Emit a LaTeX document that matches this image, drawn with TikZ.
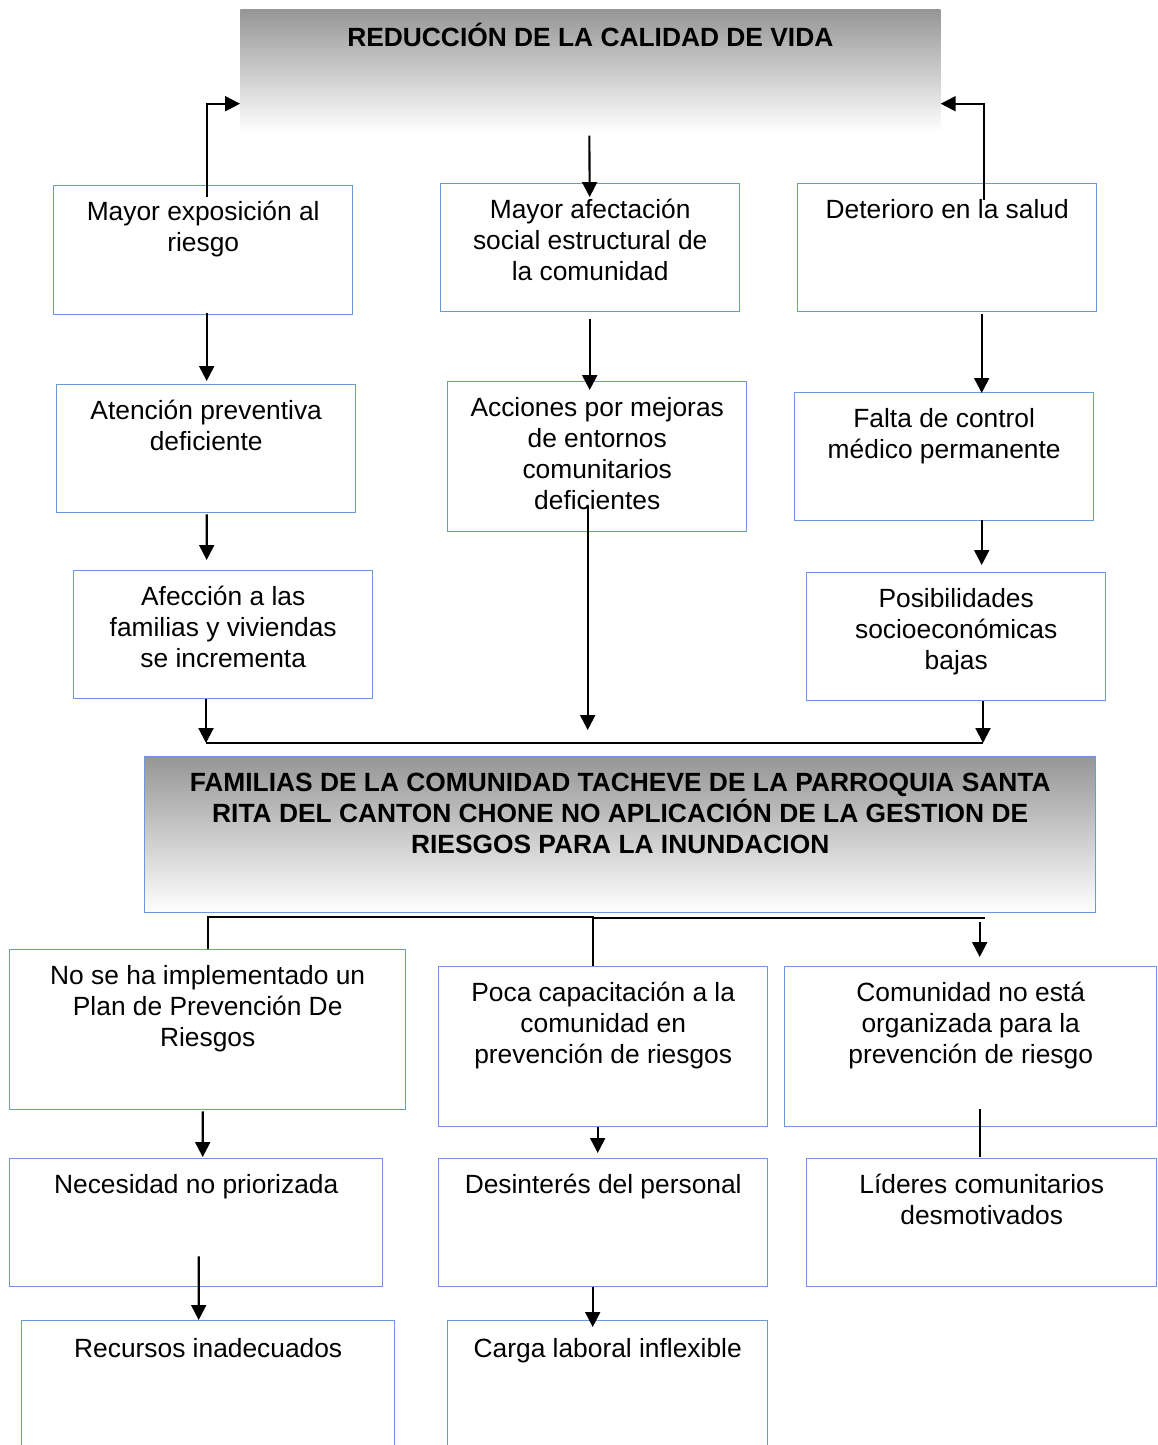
\documentclass[tikz,border=0pt]{standalone}
\usepackage{fontspec}
\setmainfont{Liberation Sans}
\usepackage{xcolor}
\usepackage{tikz}
\usetikzlibrary{arrows.meta,positioning,calc}
\definecolor{colorBorde}{HTML}{6A98D8}
\definecolor{colorGris}{HTML}{969696}
\newlength{\pxu}
\setlength{\pxu}{0.02cm}
% box contents: [strut] width height text (in pixels)
\newcommand{\caja}[4][34]{\parbox[c][#3\pxu][t]{#2\pxu}{\centering\rule{0pt}{#1\pxu}#4}}

\begin{document}
\begin{tikzpicture}[
    x=0.02cm, y=-0.02cm,
    cuadro/.style={draw=colorBorde, line width=0.8pt, inner sep=0pt, anchor=north west, font=\fontsize{15pt}{17.6pt}\selectfont},
    titulo/.style={inner sep=0pt, anchor=north west, top color=colorGris, bottom color=white, font=\fontsize{15pt}{17.6pt}\selectfont\bfseries},
    flecha/.style={-{Triangle[width=8.5pt,length=8.5pt]}, line width=1.2pt},
    linea/.style={line width=1.2pt}
]
    \useasboundingbox (0,0) rectangle (1158,1445);
    \clip (0,0) rectangle (1158,1445);

    % Nodes
    \node[titulo] (reduc) at (240,9) {\caja[37]{700}{123}{REDUCCIÓN DE LA CALIDAD DE VIDA}};

    \node[cuadro] (expo) at (53,185) {\caja[35]{299}{129}{Mayor exposición al\\riesgo}};
    \node[cuadro] (afect) at (440,183) {\caja[35]{299}{128}{Mayor afectación\\social estructural de\\la comunidad}};
    \node[cuadro] (deter) at (797,183) {\caja[35]{299}{128}{Deterioro en la salud}};

    \node[cuadro] (aten) at (56,384) {\caja[35]{299}{128}{Atención preventiva\\deficiente}};
    \node[cuadro] (acc) at (447,381) {\caja[35]{299}{150}{Acciones por mejoras\\de entornos\\comunitarios\\deficientes}};
    \node[cuadro] (falta) at (794,392) {\caja[35]{299}{128}{Falta de control\\médico permanente}};

    \node[cuadro] (afec) at (73,570) {\caja[35]{299}{128}{Afección a las\\familias y viviendas\\se incrementa}};
    \node[cuadro] (posib) at (806,572) {\caja[35]{299}{128}{Posibilidades\\socioeconómicas\\bajas}};

    \node[titulo, draw=colorBorde, line width=0.8pt] (famil) at (144,756) {\caja[35]{951}{156}{FAMILIAS DE LA COMUNIDAD TACHEVE DE LA PARROQUIA SANTA\\RITA DEL CANTON CHONE NO APLICACIÓN DE LA GESTION DE\\RIESGOS PARA LA INUNDACION}};

    \node[cuadro] (noimpl) at (9,949) {\caja[35]{396}{160}{No se ha implementado un\\Plan de Prevención De\\Riesgos}};
    \node[cuadro] (capac) at (438,966) {\caja[35]{329}{160}{Poca capacitación a la\\comunidad en\\prevención de riesgos}};
    \node[cuadro] (organ) at (784,966) {\caja[35]{372}{160}{Comunidad no está\\organizada para la\\prevención de riesgo}};

    \node[cuadro] (neces) at (9,1158) {\caja[35]{373}{128}{Necesidad no priorizada}};
    \node[cuadro] (desint) at (438,1158) {\caja[35]{329}{128}{Desinterés del personal}};
    \node[cuadro] (lideres) at (806,1158) {\caja[35]{350}{128}{Líderes comunitarios\\desmotivados}};

    \node[cuadro] (recur) at (21,1320) {\caja[37]{373}{150}{Recursos inadecuados}};
    \node[cuadro] (carga) at (447,1320) {\caja[37]{320}{150}{Carga laboral inflexible}};

    % Junctions
    \coordinate (unionA) at ($(famil.north west)+(62,-13)$);
    \coordinate (unionB) at ($(famil.north west)+(839,-13)$);
    \coordinate (rama) at ($(famil.south west)+(449,4)$);
    \coordinate (ramaC) at ($(organ.north)+(14,-48)$);

    % Edges (effects)
    \draw[flecha] ($(expo.north)+(3.5,12)$) |- ($(reduc.south west)+(0,-29)$);
    \draw[flecha] ($(reduc.south)+(-1,3)$) -- ($(afect.north)+(-0.5,14)$);
    \draw[flecha] ($(deter.north)+(36.5,17)$) |- ($(reduc.south east)+(0,-29)$);
    \draw[flecha] ($(expo.south)+(3.5,-2)$) -- ($(aten.north)+(0.5,-3)$);
    \draw[flecha] ($(afect.south)+(-0.5,7)$) -- ($(acc.north)+(-7.5,9)$);
    \draw[flecha] ($(deter.south)+(34.5,2)$) -- ($(falta.north)+(37.5,1)$);
    \draw[flecha] ($(aten.south)+(0.5,1)$) -- ($(afec.north)+(-16.5,-10)$);
    \draw[flecha] ($(falta.south)+(37.5,-1)$) -- ($(posib.north)+(25.5,-7)$);
    \draw[flecha] ($(acc.south)+(-9.5,-26)$) -- ($(famil.north)+(-32.5,-26)$);
    \draw[flecha] (afec.south -| unionA) -- (unionA);
    \draw[flecha] (posib.south -| unionB) -- (unionB);
    \draw[linea] (unionA) -- (unionB);

    % Edges (causes)
    \draw[linea] (noimpl.north) |- (rama) -- (rama |- capac.north);
    \draw[linea] (rama |- ramaC) -- (ramaC);
    \draw[flecha] ($(organ.north)+(9,-44)$) -- ($(organ.north)+(9,-9)$);
    \draw[flecha] ($(noimpl.south)+(-5,1)$) -- ($(neces.north)+(6.5,-1)$);
    \draw[flecha] ($(capac.south)+(-5.5,0)$) -- ($(desint.north)+(-5.5,-5)$);
    \draw[linea] ($(organ.south)+(9,-18)$) -- ($(lideres.north)+(-2,-1)$);
    \draw[flecha] ($(neces.south)+(2.5,-31)$) -- ($(recur.north)+(-9.5,0)$);
    \draw[flecha] ($(desint.south)+(-10.5,0)$) -- ($(carga.north)+(-15,7)$);

\end{tikzpicture}
\end{document}
